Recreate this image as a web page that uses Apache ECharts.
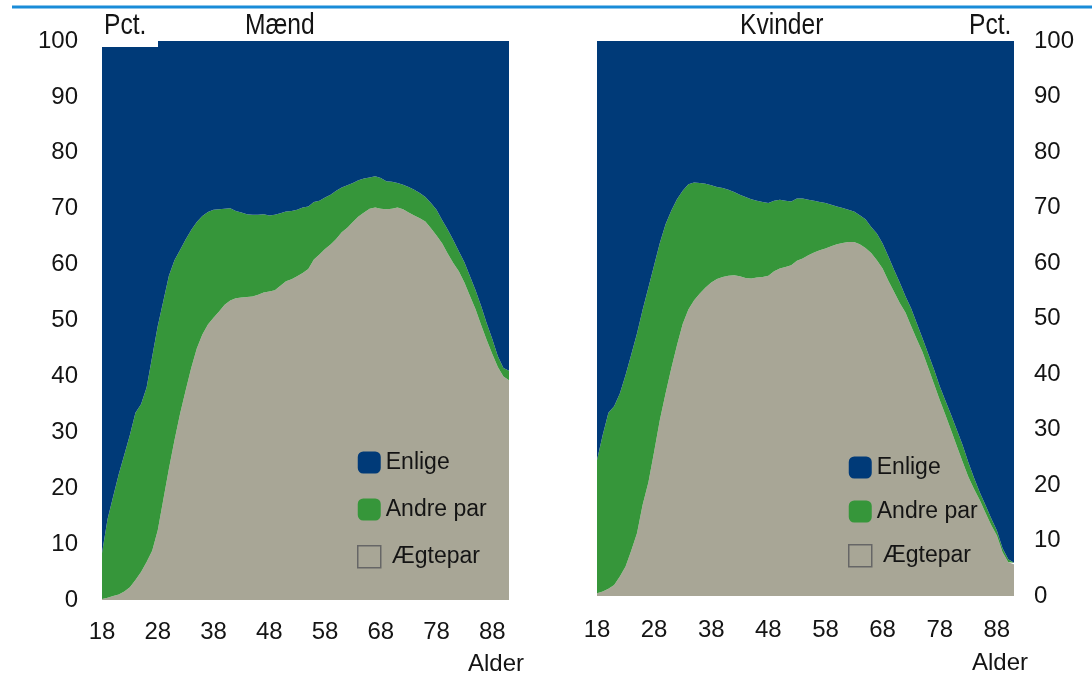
<!DOCTYPE html>
<html>
<head>
<meta charset="utf-8">
<script src="https://cdn.jsdelivr.net/npm/echarts@6/dist/echarts.min.js"></script>
<style>html,body{margin:0;padding:0;background:#fff}#c{width:1092px;height:678px}</style>
</head>
<body>
<div id="c"></div>
<script>
const ages = ['18','19','20','21','22','23','24','25','26','27','28','29','30','31','32','33','34','35','36','37','38','39','40','41','42','43','44','45','46','47','48','49','50','51','52','53','54','55','56','57','58','59','60','61','62','63','64','65','66','67','68','69','70','71','72','73','74','75','76','77','78','79','80','81','82','83','84','85','86','87','88','89','90','91'];
const yTicks = [0,10,20,30,40,50,60,70,80,90,100];
const seriesNames = ['Enlige','Andre par','Ægtepar'];

const menMarried = [0.2,0.4,0.7,1.0,1.5,2.3,3.6,5.0,6.8,8.8, 12.5,18,23.5,28.6,33.3,37.5,41.5,45,47.5,49.3, 50.5,51.6,52.8,53.6,54,54.1,54.2,54.3,54.6,55, 55.2,55.4,56.2,57,57.4,57.9,58.5,59.2,60.9,61.8, 62.8,63.6,64.6,65.8,66.6,67.6,68.6,69.3,70,70.2, 70,69.9,70,70.2,69.9,69.3,68.8,68.3,67.7,66.5, 65.2,63.8,62,60.3,58.8,56.8,54.4,52,49.2,46.5, 44,41.7,40,39.3];
const menOther = [8.2,14.1,17.8,21.5,24.5,27.2,29.9,30,31.2,34.7, 36.5,35.5,34.5,32.2,29.3,27,24.7,22.6,21.2,20.1, 19.3,18.3,17.2,16.5,15.6,15.2,14.8,14.6,14.3,14, 13.6,13.5,13,12.5,12.2,11.9,11.7,11.2,10.3,9.6, 9.2,8.9,8.6,8,7.6,7,6.5,6.1,5.6,5.6, 5.5,5,4.8,4.4,4.4,4.6,4.6,4.5,4.4,4.5, 4.6,4.2,4.3,4.1,3.6,3.6,3.5,3.4,3.4,3, 2.7,1.9,1.5,1.7];
const menSingle = [91.6,85.5,81.5,77.5,74,70.5,66.5,65,62,56.5, 51,46.5,42,39.2,37.4,35.5,33.8,32.4,31.3,30.6, 30.2,30.1,30,29.9,30.4,30.7,31,31.1,31.1,31, 31.2,31.1,30.8,30.5,30.4,30.2,29.8,29.6,28.8,28.6, 28,27.5,26.8,26.2,25.8,25.4,24.9,24.6,24.4,24.2, 24.5,25.1,25.2,25.4,25.7,26.1,26.6,27.2,27.9,29, 30.2,32,33.7,35.6,37.6,39.6,42.1,44.6,47.4,50.5, 53.3,56.4,58.5,59];

const womenMarried = [0.5,0.8,1.3,2.0,3.5,5.3,8.2,11.3,16.5,20.5, 26,31.7,36.5,41,45.2,49,51.6,53.3,54.5,55.6, 56.5,57.1,57.5,57.7,57.8,57.6,57.3,57.2,57.4,57.5, 57.7,58.5,59,59.3,59.6,60.4,60.8,61.4,61.9,62.3, 62.6,63,63.4,63.6,63.8,63.8,63.4,62.7,61.8,60.5, 59,56.8,54.8,52.8,51.1,48.6,46.2,43.9,41.1,38.2, 35.3,32.6,29.8,27,24.2,21.5,19.3,17.3,15,12.8, 10.9,7.9,6.1,5.7];
const womenOther = [24,28.2,31.7,32.2,33,34.5,35.3,36,35.1,35.1, 33.6,31.9,30.5,28.4,26.3,24,22.6,21.2,19.9,18.7, 17.5,16.6,16,15.5,15,14.7,14.6,14.3,13.8,13.5, 13.1,12.7,12.4,11.9,11.5,11.2,10.8,10,9.3,8.7, 8.2,7.5,6.8,6.3,5.8,5.5,5.2,5.2,4.7,4.8, 4.5,4.4,4,3.7,2.9,3.2,2.9,2.5,2.5,2.6, 2.5,2.6,2.8,2.9,3,2.6,2,1.4,1.4,1.2, 0.9,0.7,0.5,0.3];
const womenSingle = [75.5,71,67,65.8,63.5,60.2,56.5,52.7,48.4,44.4, 40.4,36.4,33,30.6,28.5,27,25.8,25.5,25.6,25.7, 26,26.3,26.5,26.8,27.2,27.7,28.1,28.5,28.8,29, 29.2,28.8,28.6,28.8,28.9,28.4,28.4,28.6,28.8,29, 29.2,29.5,29.8,30.1,30.4,30.7,31.4,32.1,33.5,34.7, 36.5,38.8,41.2,43.5,46,48.2,50.9,53.6,56.4,59.2, 62.2,64.8,67.4,70.1,72.8,75.9,78.7,81.3,83.6,86, 88.2,91.4,93.4,94];

const C_BLUE = '#003a78', C_GREEN = '#36963a', C_GRAY = '#a8a696';
const FONT = "'Liberation Sans', Arial, sans-serif";
const TXT = '#141414';

function area(name, data, color, idx, stack) {
  return {
    name, type: 'line', data, stack, xAxisIndex: idx, yAxisIndex: idx,
    symbol: 'none', smooth: false, lineStyle: { width: 0 },
    areaStyle: { color, opacity: 1 }, itemStyle: { color }, emphasis: { disabled: true }
  };
}
function xAx(grid) {
  return {
    type: 'category', gridIndex: grid, data: ages, boundaryGap: false,
    axisLine: { show: false }, axisTick: { show: false }, splitLine: { show: false },
    axisLabel: { interval: 9, fontSize: 24, fontFamily: FONT, color: TXT, margin: grid === 0 ? 20 : 22 }
  };
}
function yAx(grid, pos, margin) {
  return {
    type: 'value', gridIndex: grid, min: yTicks[0], max: yTicks[yTicks.length - 1], interval: 10, position: pos,
    axisLine: { show: false }, axisTick: { show: false }, splitLine: { show: false },
    axisLabel: { fontSize: 24, fontFamily: FONT, color: TXT, margin, align: pos === 'left' ? 'right' : 'left' }
  };
}
function legendData() {
  return [
    { name: seriesNames[0] },
    { name: seriesNames[1] },
    { name: seriesNames[2], icon: 'rect', itemStyle: { color: 'rgba(0,0,0,0)', borderColor: '#666', borderWidth: 1.5 }, textStyle: { padding: [4, 0, 0, 6] } }
  ];
}
function legend(left, top, gap) {
  return {
    left, top, orient: 'vertical', itemWidth: 23, itemHeight: 22, itemGap: gap, icon: 'roundRect',
    selectedMode: false, textStyle: { fontSize: 23, fontFamily: FONT, color: TXT }, data: legendData()
  };
}
function narrowText(x, y, text) {
  return { type: 'text', z: 101, x, y, scaleX: 0.82, style: { text, font: '30px ' + FONT, fill: TXT } };
}

const chart = echarts.init(document.getElementById('c'));
chart.setOption({
  animation: false,
  grid: [
    { left: 102, top: 41, width: 407, height: 559 },
    { left: 597, top: 41, width: 417, height: 555 }
  ],
  xAxis: [xAx(0), xAx(1)],
  yAxis: [yAx(0, 'left', 24), yAx(1, 'right', 20)],
  legend: [legend(352, 446, 24), legend(843, 451, 21)],
  series: [
    area(seriesNames[2], menMarried, C_GRAY, 0, 'm'),
    area(seriesNames[1], menOther, C_GREEN, 0, 'm'),
    area(seriesNames[0], menSingle, C_BLUE, 0, 'm'),
    area(seriesNames[2], womenMarried, C_GRAY, 1, 'k'),
    area(seriesNames[1], womenOther, C_GREEN, 1, 'k'),
    area(seriesNames[0], womenSingle, C_BLUE, 1, 'k')
  ],
  graphic: [
    { type: 'line', z: 100, shape: { x1: 12, y1: 7, x2: 1092, y2: 7 }, style: { stroke: '#1a8cd8', lineWidth: 3 } },
    { type: 'rect', z: 100, shape: { x: 102, y: 12, width: 56, height: 35 }, style: { fill: '#fff' } },
    narrowText(104, 11, 'Pct.'),
    narrowText(245, 11, 'Mænd'),
    narrowText(740, 11, 'Kvinder'),
    narrowText(969, 11, 'Pct.'),
    { type: 'text', z: 101, left: 468, top: 652, style: { text: 'Alder', font: '24px ' + FONT, fill: TXT } },
    { type: 'text', z: 101, left: 972, top: 651, style: { text: 'Alder', font: '24px ' + FONT, fill: TXT } }
  ]
});
</script>
</body>
</html>
